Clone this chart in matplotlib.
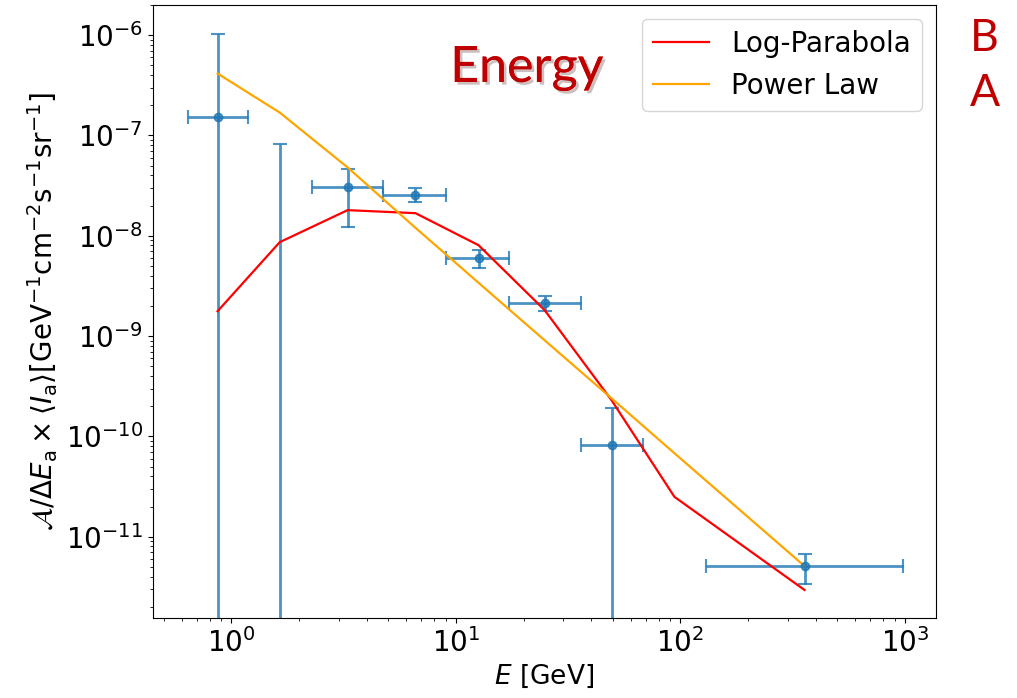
import numpy as np
import matplotlib.pyplot as plt
import matplotlib.patheffects as pe

# measured points (bin centre, flux, errors)
e_mid = [0.867, 1.64, 3.29, 6.6, 12.6, 24.8, 49.3, 357]
e_lo = [0.637, 1.19, 2.29, 4.75, 9.07, 17.3, 36.0, 130.6]
e_hi = [1.19, 2.29, 4.75, 9.07, 17.3, 36.0, 67.8, 985]
flux = [1.51e-7, 1.0e-12, 3.03e-8, 2.52e-8, 6.04e-9, 2.14e-9, 8.2e-11, 5.14e-12]
flux_up = [1.03e-6, 8.3e-8, 4.58e-8, 2.98e-8, 7.26e-9, 2.5e-9, 1.92e-10, 6.77e-12]
flux_low = [0.0, 0.0, 1.21e-8, 2.15e-8, 4.8e-9, 1.77e-9, 0.0, 3.4e-12]

# model curves
e_model = [0.867, 1.64, 3.29, 6.6, 12.6, 24.8, 49.3, 94, 357]
logpar = [1.77e-9, 8.63e-9, 1.8e-8, 1.68e-8, 8.06e-9, 1.82e-9, 2.3e-10, 2.5e-11, 2.95e-12]
powlaw = [4.14e-7, 1.69e-7, 4.8e-8, 1.2e-8, 3.4e-9, 9.1e-10, 2.4e-10, 6.8e-11, 5.1e-12]

x = np.array(e_mid)
y = np.array(flux)
xerr = [x - np.array(e_lo), np.array(e_hi) - x]
yerr = [y - np.array(flux_low), np.array(flux_up) - y]

fig = plt.figure(figsize=(10.17, 6.98), dpi=100)
ax = fig.add_axes([0.150, 0.1146, 0.770, 0.8784])

ax.errorbar(x, y, xerr=xerr, yerr=yerr, fmt='o', color='#1f77b4', alpha=0.8,
            markersize=6, capsize=5, elinewidth=2, capthick=1.5)
ax.plot(e_model, logpar, color='red', lw=1.6, label='Log-Parabola')
ax.plot(e_model, powlaw, color='orange', lw=1.6, label='Power Law')

ax.set_xscale('log')
ax.set_yscale('log')
ax.set_xlim(0.445, 1370)
ax.set_ylim(1.55e-12, 2e-6)
ax.tick_params(labelsize=20)

ax.set_xlabel(r'$E$ [GeV]', fontsize=19)
ax.set_ylabel(r'$\mathcal{A}/\Delta E_{\rm a}\times\langle I_{\rm a}\rangle[{\rm GeV}^{-1}{\rm cm}^{-2}{\rm s}^{-1}{\rm sr}^{-1}]$',
              fontsize=20, labelpad=4)
ax.legend(loc='upper right', fontsize=20)

shadow = [pe.withSimplePatchShadow(offset=(2, -2), alpha=0.25), pe.Normal()]
fig.text(0.518, 0.902, 'Energy', color='#c00000', fontsize=36, family='Lato',
         ha='center', va='center', path_effects=shadow)
fig.text(0.968, 0.945, 'B', color='#c00000', fontsize=32, family='Lato', ha='center', va='center')
fig.text(0.968, 0.866, 'A', color='#c00000', fontsize=32, family='Lato', ha='center', va='center')

fig.savefig('out.png', dpi=100)
